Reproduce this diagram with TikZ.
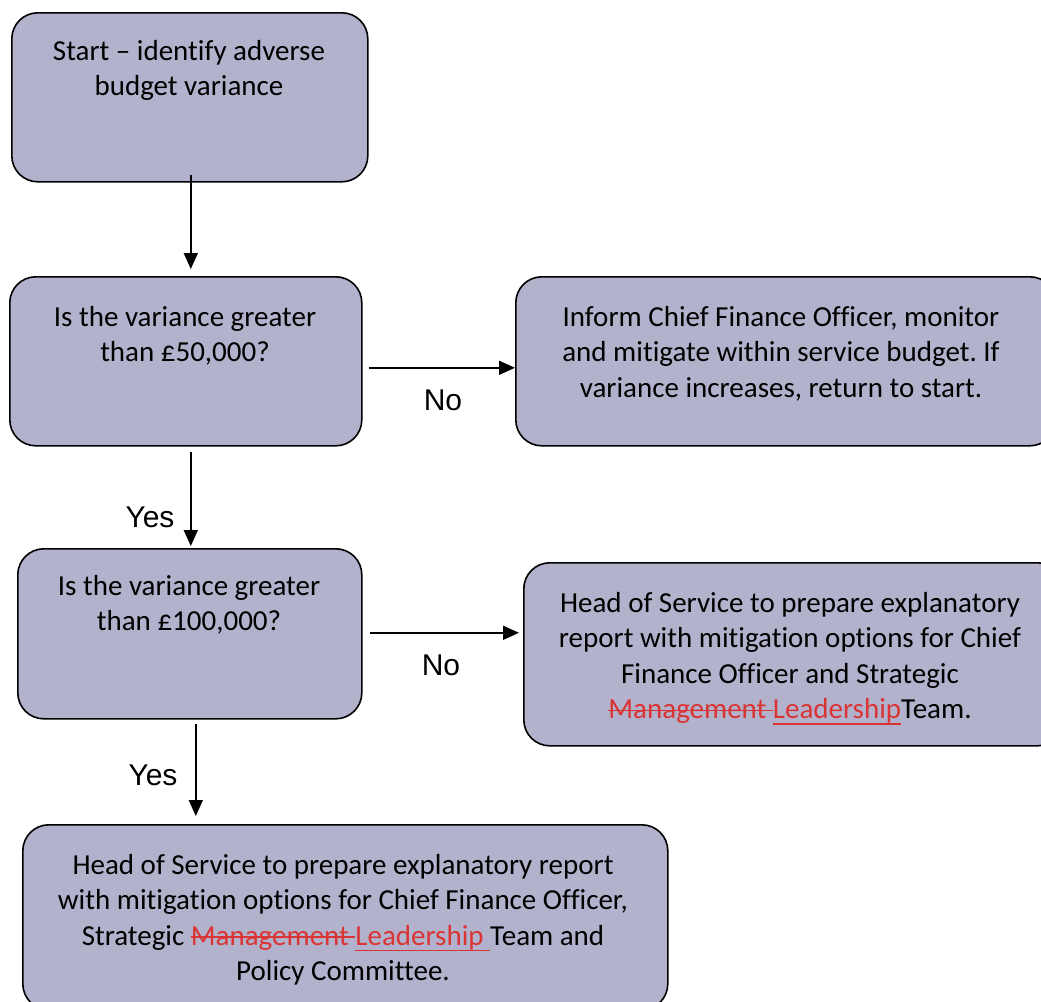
\documentclass[tikz,border=0pt]{standalone}
\usepackage{fontspec}
\setmainfont{Carlito}[Ligatures={NoCommon}]
\newfontfamily\arialfont{Liberation Sans}
\usetikzlibrary{arrows.meta,calc}
\definecolor{boxfill}{RGB}{178,178,204}
\definecolor{edred}{RGB}{218,52,52}
\frenchspacing
\newsavebox\markbox
\newcommand{\strk}[1]{\sbox\markbox{\color{edred}#1}\textcolor{edred}{\rlap{\rule[0.27em]{\wd\markbox}{1.5pt}}}\usebox\markbox}
\newcommand{\insr}[1]{\sbox\markbox{\color{edred}#1}\textcolor{edred}{\rlap{\rule[-0.2em]{\wd\markbox}{1.5pt}}}\usebox\markbox}
\tikzset{
  flowbox/.style={draw=black, line width=1.6pt, fill=boxfill, rounded corners=26pt, inner sep=0pt, anchor=north west},
  boxtext/.style={anchor=north, align=center, inner sep=0pt, font=\fontsize{29}{35.5}\selectfont},
  arr/.style={line width=1.6pt, -{Triangle[length=16pt,width=14pt]}},
  lbl/.style={inner sep=0pt, font=\arialfont\fontsize{30}{34}\selectfont}
}
\begin{document}
\begin{tikzpicture}[x=1pt,y=-1pt]
\useasboundingbox (0,0) rectangle (1041,1001);
% boxes
\node[flowbox, minimum width=356pt, minimum height=169pt] (b1) at (11,12) {};
\node[flowbox, minimum width=352pt, minimum height=169pt] (b2) at (9,276) {};
\node[flowbox, minimum width=540pt, minimum height=169pt] (b3) at (515,276) {};
\node[flowbox, minimum width=344pt, minimum height=170pt] (b4) at (17,548) {};
\node[flowbox, minimum width=540pt, minimum height=183pt] (b5) at (523,562) {};
\node[flowbox, minimum width=645pt, minimum height=185pt] (b6) at (22,824) {};
% texts
\node[boxtext] (t1) at (189,40) {Start – identify adverse\\budget variance};
\node[boxtext] (t2) at (185,306) {Is the variance greater\\than £50,000?};
\node[boxtext] (t3) at (781,306) {Inform Chief Finance Officer, monitor\\and mitigate within service budget. If\\variance increases, return to start.};
\node[boxtext] (t4) at (189,575) {Is the variance greater\\than £100,000?};
\node[boxtext] (t5) at (790,592) {Head of Service to prepare explanatory\\report with mitigation options for Chief\\Finance Officer and Strategic\\\strk{Management }\insr{Leadership}Team.};
\node[boxtext] (t6) at (343,854) {Head of Service to prepare explanatory report\\with mitigation options for Chief Finance Officer,\\Strategic \strk{Management }\insr{Leadership }Team and\\Policy Committee.};
% arrows
\draw[arr] ([xshift=1pt,yshift=8pt]b1.south) -- ([xshift=1pt]b1.south |- b2.north) [shorten >=7pt];
\draw[arr] ([xshift=6pt,yshift=-6.5pt]b2.east) -- ([yshift=-6.5pt]b2.east -| b3.west);
\draw[arr] ([xshift=5pt,yshift=-5pt]b2.south) -- ([xshift=5pt]b2.south |- b4.north) [shorten >=2pt];
\draw[arr] ([xshift=7pt,yshift=1pt]b4.east) -- ([yshift=1pt]b4.east -| b5.west) [shorten >=4pt];
\draw[arr] ([xshift=6pt,yshift=-4pt]b4.south) -- ([xshift=6pt]b4.south |- b6.north) [shorten >=8pt];
% labels
\node[lbl] (n1) at (443,400) {No};
\node[lbl] (y1) at (150,517) {Yes};
\node[lbl] (n2) at (441,665) {No};
\node[lbl] (y2) at (153,775) {Yes};
\end{tikzpicture}
\end{document}
